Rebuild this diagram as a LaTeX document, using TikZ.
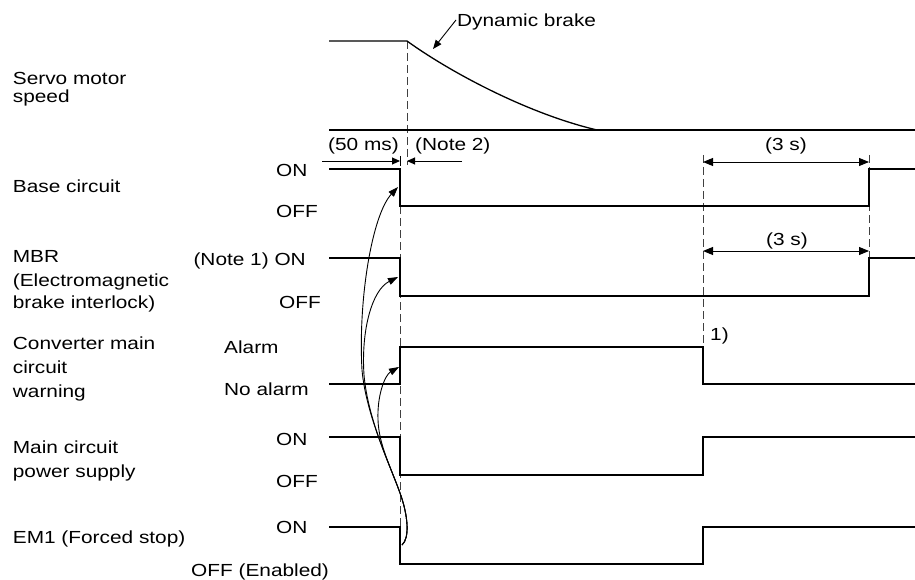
\documentclass[tikz,border=0pt]{standalone}
\usepackage{fontspec}
\setmainfont{Liberation Sans}[FakeStretch=1.19]
\usetikzlibrary{arrows.meta}
\begin{document}
\begin{tikzpicture}[x=1pt,y=-1pt,
  lbl/.style={anchor=base west, inner sep=0pt, font=\fontsize{17.5}{21}\selectfont},
  lblr/.style={lbl, anchor=base east},
  lblc/.style={lbl, anchor=base},
  sig/.style={line width=1.3pt, line join=miter},
  guide/.style={line width=0.9pt, dash pattern=on 8pt off 4pt, black!75},
  dim/.style={line width=0.9pt},
  smalltip/.style={-{Triangle[length=8pt,width=7pt]}},
  bothtip/.style={{Triangle[length=10pt,width=8pt]}-{Triangle[length=10pt,width=8pt]}},
  cause/.style={line width=0.9pt, -{Triangle[length=10pt,width=7pt]}},
]
\useasboundingbox (0,0) rectangle (915,580);
\fill[white] (0,0) rectangle (915,580);

% guide lines
\draw[guide] (407,41) -- (407,165);
\draw[guide] (400,206) -- (400,527);
\draw[guide] (703,155) -- (703,347);
\draw[guide] (869,155) -- (869,258);

% signals
\draw[sig] (329,41) -- (407,41) .. controls (447,70) and (525,113) .. (597,130);
\draw[sig] (329,130) -- (915,130);
\draw[sig] (329,169) -- (400,169) -- (400,206) -- (869,206) -- (869,169) -- (915,169);
\draw[sig] (329,258) -- (400,258) -- (400,296) -- (869,296) -- (869,258) -- (915,258);
\draw[sig] (329,384) -- (400,384) -- (400,347) -- (703,347) -- (703,384) -- (915,384);
\draw[sig] (329,437) -- (400,437) -- (400,475) -- (703,475) -- (703,437) -- (915,437);
\draw[sig] (329,527) -- (400,527) -- (400,564) -- (703,564) -- (703,527) -- (915,527);

% top texts
\node[lbl] (db) at (457,26.5) {Dynamic brake};
\coordinate (dbstart) at (456,20);
\coordinate (dbtip) at (433,49);
\draw[dim,-{Triangle[length=9pt,width=7pt]}] (dbstart) -- (dbtip);

\node[lbl] (t50) at (328,151) {(50 ms)};
\node[lbl] (tn2) at (415,151) {(Note 2)};
\coordinate (a50s) at (322,161); \coordinate (a50e) at (400,161);
\coordinate (an2s) at (462,161); \coordinate (an2e) at (407,161);
\draw[dim,smalltip] (a50s) -- (a50e);
\draw[dim,smalltip] (an2s) -- (an2e);
\coordinate (tk1) at (400,156); \coordinate (tk2) at (400,166);
\draw[dim] (tk1) -- (tk2);

\node[lblc] (t3a) at (786,151) {(3 s)};
\node[lblc] (t3b) at (787,245) {(3 s)};
\coordinate (s1a) at (703,162); \coordinate (s1b) at (869,162);
\coordinate (s2a) at (703,251); \coordinate (s2b) at (869,251);
\draw[dim,bothtip] (s1a) -- (s1b);
\draw[dim,bothtip] (s2a) -- (s2b);
\node[lbl] (n1) at (710,340) {1)};

% left labels
\node[lbl] (l1a) at (12.7,85) {Servo motor};
\node[lbl] (l1b) at (12.7,103) {speed};
\node[lbl] (l2) at (12.7,193) {Base circuit};
\node[lbl] (l3a) at (12.7,262) {MBR};
\node[lbl] (l3b) at (12.7,286) {(Electromagnetic};
\node[lbl] (l3c) at (12.7,308) {brake interlock)};
\node[lbl] (l4a) at (12.7,349) {Converter main};
\node[lbl] (l4b) at (12.7,373) {circuit};
\node[lbl] (l4c) at (12.7,397) {warning};
\node[lbl] (l5a) at (12.7,453) {Main circuit};
\node[lbl] (l5b) at (12.7,477) {power supply};
\node[lbl] (l6) at (12.7,543) {EM1 (Forced stop)};

% level labels
\node[lbl] (r1on) at (276,177) {ON};
\node[lbl] (r1off) at (276,218) {OFF};
\node[lblr] (r2on) at (306,265) {(Note 1) ON};
\node[lbl] (r2off) at (279,308) {OFF};
\node[lbl] (r3on) at (224,353) {Alarm};
\node[lbl] (r3off) at (224,395) {No alarm};
\node[lbl] (r4on) at (276,445) {ON};
\node[lbl] (r4off) at (276,487) {OFF};
\node[lbl] (r5on) at (276,533) {ON};
\node[lbl] (r5off) at (191,576) {OFF (Enabled)};

% cause arrows
\coordinate (em1) at (402,545);
\coordinate (bend) at (400,493);
\coordinate (tipB) at (398,187);
\coordinate (tipM) at (398,277);
\coordinate (tipC) at (399,367);
\draw[cause] (em1) .. controls (410,538) and (408,515) .. (bend)
  .. controls (390,465) and (366,415) .. (362,370)
  .. controls (358,300) and (372,215) .. (tipB);
\draw[cause] (em1) .. controls (410,538) and (408,515) .. (bend)
  .. controls (390,465) and (368,420) .. (364,375)
  .. controls (361,330) and (372,290) .. (tipM);
\draw[cause] (em1) .. controls (410,538) and (408,515) .. (bend)
  .. controls (390,465) and (379,445) .. (378,420)
  .. controls (377,395) and (385,375) .. (tipC);
\end{tikzpicture}
\end{document}
